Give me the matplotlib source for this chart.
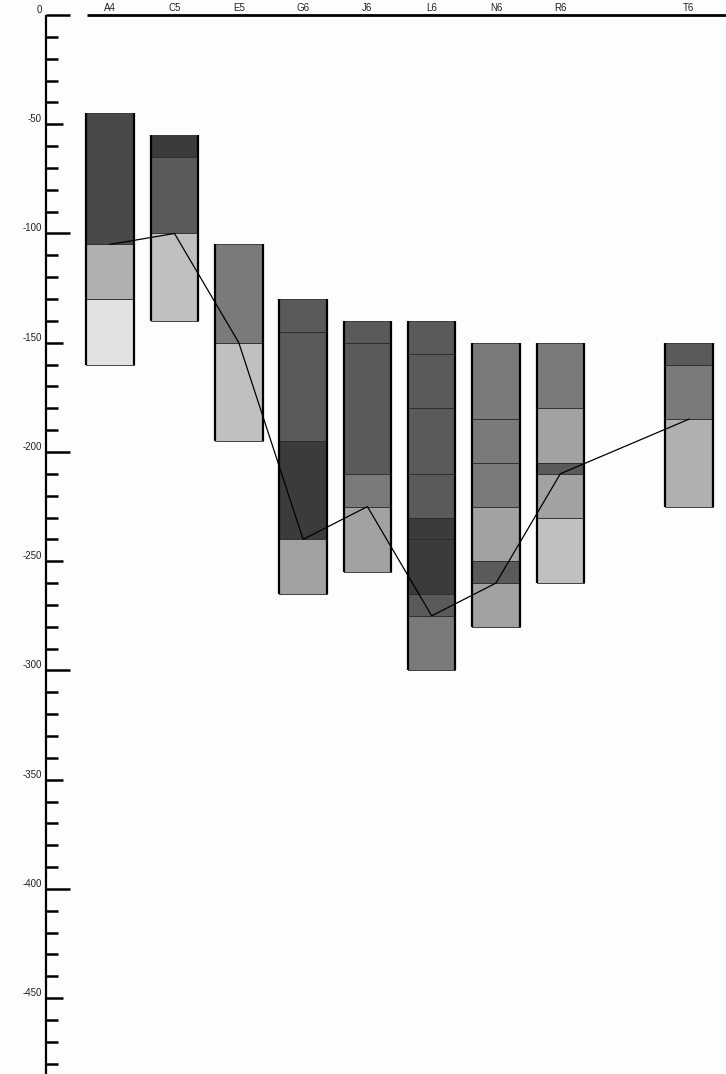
import numpy as np
import matplotlib
matplotlib.use("Agg")
import matplotlib.pyplot as plt

# ---------- data ----------
holes = ['A4', 'C5', 'E5', 'G6', 'J6', 'L6', 'N6', 'R6', 'T6']
hole_pos = [0, 1, 2, 3, 4, 5, 6, 7, 9]

# layer boundaries per hole (top -> bottom), depth values
bounds = [
    [-45, -105, -130, -160],
    [-55, -65, -100, -140],
    [-105, -150, -195],
    [-130, -145, -195, -240, -265],
    [-140, -150, -210, -225, -255],
    [-140, -155, -180, -210, -230, -240, -265, -275, -300],
    [-150, -185, -205, -225, -250, -260, -280],
    [-150, -180, -205, -210, -230, -260],
    [-150, -160, -185, -225],
]
# lithology code of each layer
litho = [
    [2, 6, 8],
    [1, 3, 7],
    [4, 7],
    [3, 3, 1, 5],
    [3, 3, 4, 5],
    [3, 3, 3, 3, 1, 1, 3, 4],
    [4, 4, 4, 5, 3, 5],
    [4, 5, 3, 5, 7],
    [3, 4, 6],
]
# marker horizon depth per hole
horizon = [-105, -100, -150, -240, -225, -275, -260, -210, -185]

litho_colors = {1: '#3b3b3b', 2: '#484848', 3: '#5a5a5a', 4: '#7a7a7a',
                5: '#a2a2a2', 6: '#b0b0b0', 7: '#c0c0c0', 8: '#e2e2e2'}

# ---------- figure ----------
fig = plt.figure(figsize=(7.26, 10.74), dpi=100)
fig.patch.set_facecolor('#fdfdfd')
ax = fig.add_axes([0, 0, 1, 1])
ax.set_facecolor('#fdfdfd')
ax.set_xlim(-1.714, 9.577)
ax.set_ylim(-484.7, 6.86)
ax.axis('off')

px = 64.3  # pixels per x unit
axis_x = -0.998
w = 0.739

for x, b, codes in zip(hole_pos, bounds, litho):
    for i, c in enumerate(codes):
        ax.bar(x, b[i] - b[i + 1], bottom=b[i + 1], width=w,
               color=litho_colors[c], edgecolor='#2a2a2a', linewidth=0.6, zorder=2)
    ax.vlines([x - w / 2, x + w / 2], b[-1], b[0], colors='black', linewidth=1.6, zorder=3)

ax.plot(hole_pos, horizon, color='black', linewidth=0.9, zorder=4)

# top line + hole labels
ax.plot([-0.361, 9.577], [0, 0], color='black', linewidth=2, solid_capstyle='butt')
for x, name in zip(hole_pos, holes):
    ax.text(x, 3.2, name, ha='center', va='center', fontsize=7,
            family='Liberation Sans', color='#222222')

# depth axis
ax.plot([axis_x, axis_x], [0, -485], color='black', linewidth=1.6, solid_capstyle='butt')
for d in range(0, -490, -10):
    if d % 100 == 0:
        ln = 24
    elif d % 50 == 0:
        ln = 17
    else:
        ln = 12
    ax.plot([axis_x, axis_x + ln / px], [d, d], color='black', linewidth=1.8,
            solid_capstyle='butt')
    if d % 50 == 0:
        ax.text(axis_x - 4 / px, d + 2.3, str(d), ha='right', va='center',
                fontsize=7, family='Liberation Sans', color='#222222')

fig.savefig('out.png', dpi=100, facecolor=fig.get_facecolor())
